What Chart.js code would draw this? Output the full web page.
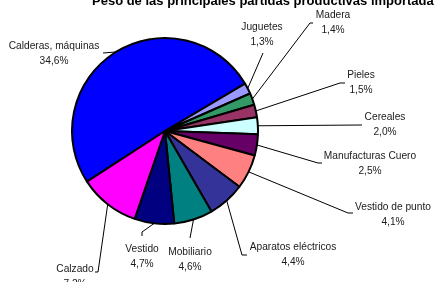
<!DOCTYPE html>
<html>
<head>
<meta charset="utf-8">
<script src="https://cdn.jsdelivr.net/npm/chart.js@4/dist/chart.umd.min.js"></script>
<style>
  html, body { margin: 0; padding: 0; background: #fff; }
  #wrap { width: 434px; height: 282px; position: relative; }
</style>
</head>
<body>
<div id="wrap"><canvas id="chart" width="434" height="282"></canvas></div>
<script>
// data (percent of total imports)
const categories = ['Calderas, máquinas', 'Juguetes', 'Madera', 'Pieles', 'Cereales',
  'Manufacturas Cuero', 'Vestido de punto', 'Aparatos eléctricos', 'Mobiliario', 'Vestido', 'Calzado'];
const values = [34.6, 1.3, 1.4, 1.5, 2.0, 2.5, 4.1, 4.4, 4.6, 4.7, 7.2];
const valueLabels = ['34,6%', '1,3%', '1,4%', '1,5%', '2,0%', '2,5%', '4,1%', '4,4%', '4,6%', '4,7%', '7,2%'];
const sliceColors = ['#0000FF', '#9999FF', '#339966', '#993366', '#CCFFFF',
  '#660066', '#FF8080', '#333399', '#008080', '#000080', '#FF00FF'];

const titleText = 'Peso de las principales partidas productivas importadas';

// label text centre (x, y of first line) and leader line bends
const labelLayout = [
  { x: 54, y: 46, path: [[103, 53]] },
  { x: 262, y: 27, path: [[263, 53]] },
  { x: 333, y: 15, path: [[310, 23], [313, 23]] },
  { x: 361, y: 75, path: [[340, 83], [345, 83]] },
  { x: 385, y: 117, path: [[362, 125]] },
  { x: 370, y: 156, path: [[318, 163], [322, 163]] },
  { x: 393, y: 207, path: [[348, 213], [353, 213]] },
  { x: 293, y: 247, path: [[242, 255], [247, 255]] },
  { x: 190, y: 252, path: [[190, 238]] },
  { x: 142, y: 249, path: [[142, 232], [142, 236]] },
  { x: 75, y: 269, path: [[98, 272], [95, 272]] }
];

const pieLabels = {
  id: 'pieLabels',
  afterDraw(chart) {
    const ctx = chart.ctx;
    const arcs = chart.getDatasetMeta(0).data;
    ctx.save();
    // title (top is cut off in the original)
    ctx.fillStyle = '#000';
    ctx.font = 'bold 13px "Liberation Sans", Arial, sans-serif';
    ctx.textAlign = 'left';
    ctx.textBaseline = 'alphabetic';
    ctx.fillText(titleText, 92, 5);

    ctx.strokeStyle = '#000';
    ctx.lineWidth = 1;
    arcs.forEach((arc, i) => {
      const mid = (arc.startAngle + arc.endAngle) / 2;
      const sx = arc.x + Math.cos(mid) * arc.outerRadius;
      const sy = arc.y + Math.sin(mid) * arc.outerRadius;
      const lay = labelLayout[i];
      ctx.beginPath();
      ctx.moveTo(sx, sy);
      lay.path.forEach(p => ctx.lineTo(p[0], p[1]));
      ctx.stroke();

      ctx.fillStyle = '#1a1a1a';
      ctx.font = '10.2px "Liberation Sans", Arial, sans-serif';
      ctx.textAlign = 'center';
      ctx.textBaseline = 'middle';
      ctx.fillText(categories[i], lay.x, lay.y);
      ctx.fillText(valueLabels[i], lay.x, lay.y + 15);
    });
    ctx.restore();
  }
};

new Chart(document.getElementById('chart'), {
  type: 'pie',
  data: {
    labels: categories,
    datasets: [{
      data: values,
      backgroundColor: sliceColors,
      borderColor: '#000',
      borderWidth: 2
    }]
  },
  options: {
    responsive: false,
    animation: false,
    rotation: 237,
    radius: 93,
    layout: { padding: { left: 0, right: 104, top: 0, bottom: 20 } },
    plugins: {
      legend: { display: false },
      tooltip: { enabled: false },
      title: { display: false }
    }
  },
  plugins: [pieLabels]
});
</script>
</body>
</html>
